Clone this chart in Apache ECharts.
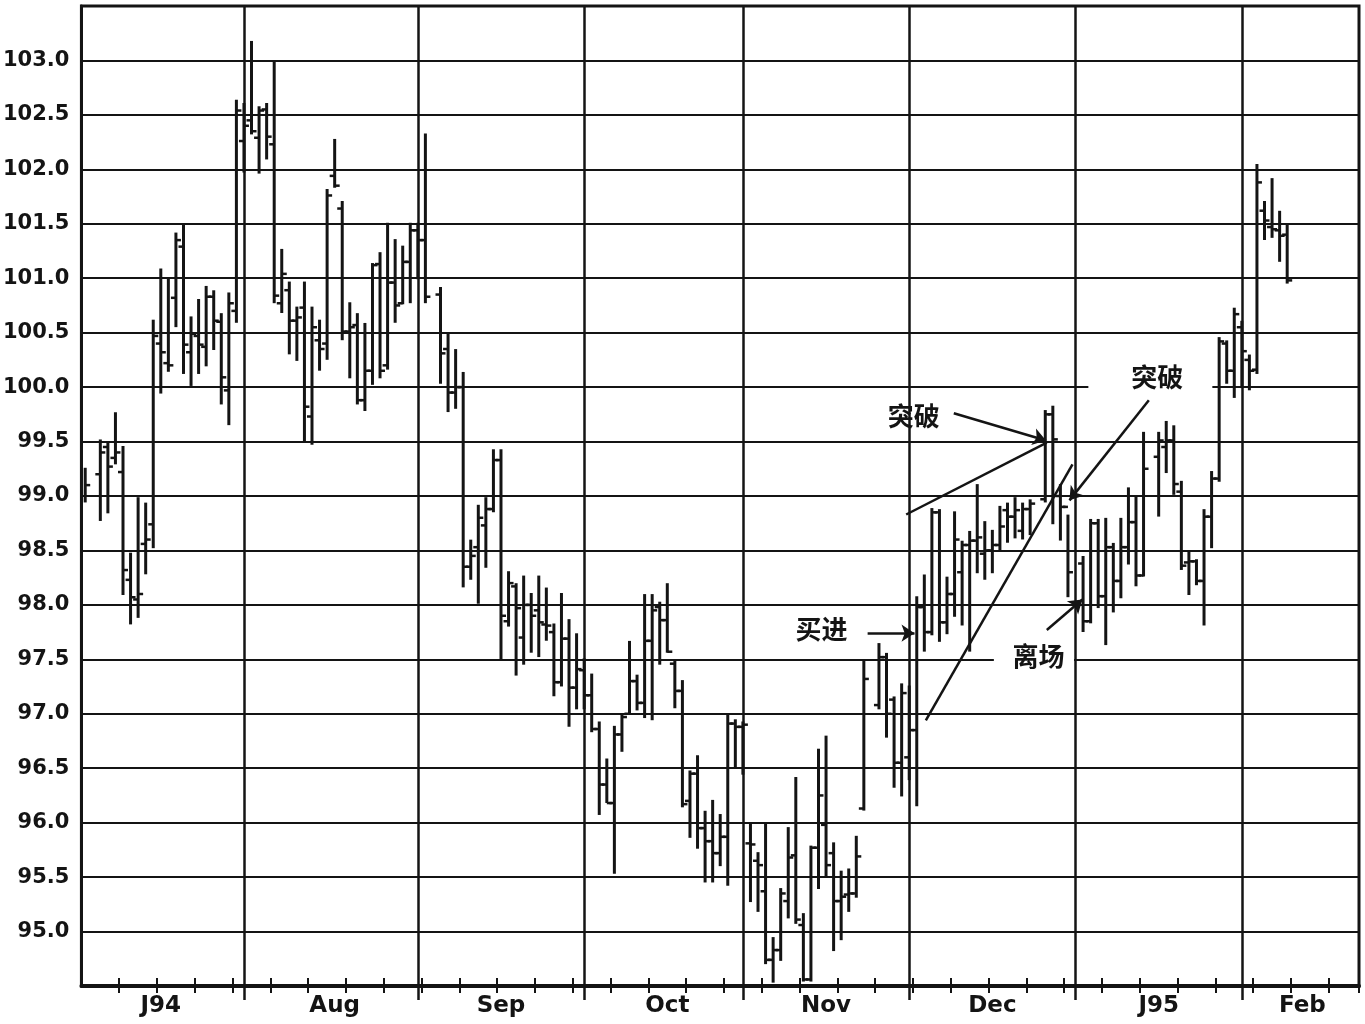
<!DOCTYPE html>
<html><head><meta charset="utf-8">
<script src="https://cdn.jsdelivr.net/npm/echarts@6/dist/echarts.min.js"></script>
<style>html,body{margin:0;padding:0;background:#fff}#c{width:1365px;height:1024px}</style>
</head><body><div id="c"></div>
<script>
// ---------------- DATA ----------------
const N_DAYS = 169; // weekday slots, July 1994 .. Feb 1995
const monthLabels = ['J94','Aug','Sep','Oct','Nov','Dec','J95','Feb'];
const monthLabelSlot = [10, 33, 55, 77, 98, 120, 142, 161];
const monthLineSlot = [21, 44, 66, 87, 109, 131, 153]; // last weekday of each month
const weekTickEvery = 5;
const yTicks = [95.0,95.5,96.0,96.5,97.0,97.5,98.0,98.5,99.0,99.5,100.0,100.5,101.0,101.5,102.0,102.5,103.0];

// bar slot (weekday index), high, low, open, close
const barSlot  = [0,2,3,4,5,6,7,8,9,10,11,12,13,14,15,16,17,18,19,20,21,22,23,24,25,26,27,28,29,30,31,32,33,34,35,36,37,38,39,40,41,42,43,44,45,47,48,49,50,51,52,53,54,55,56,57,58,59,60,61,62,63,64,65,66,67,68,69,70,71,72,73,74,75,76,77,78,79,80,81,82,83,84,85,86,87,88,89,90,91,92,93,94,95,96,97,98,99,100,101,102,103,105,106,107,108,109,110,111,112,113,114,115,116,117,118,119,120,121,122,123,124,125,127,128,129,130,132,133,134,135,136,137,138,139,140,142,143,144,145,146,147,148,149,150,151,152,153,154,155,156,157,158,159];
const barHigh  = [99.25,99.51,99.48,99.76,99.45,98.47,98.98,98.93,100.61,101.08,101.00,101.41,101.49,100.64,100.80,100.92,100.88,100.67,100.86,102.63,102.60,103.17,102.57,102.60,102.98,101.26,100.96,100.73,100.96,100.73,100.61,101.81,102.27,101.70,100.77,100.67,100.58,101.13,101.23,101.50,101.35,101.29,101.50,101.50,102.32,100.91,100.49,100.34,100.13,98.59,98.91,98.98,99.42,99.42,98.30,98.19,98.26,98.10,98.26,98.15,97.82,98.10,97.86,97.73,97.50,97.36,96.92,96.58,96.88,96.99,97.66,97.35,98.09,98.09,98.02,98.19,97.48,97.30,96.47,96.61,96.10,96.20,96.07,96.99,96.94,96.92,95.98,95.72,95.98,94.94,95.39,95.95,96.41,95.16,95.78,96.67,96.79,95.81,95.55,95.57,95.87,97.48,97.64,97.55,97.15,97.27,97.25,98.07,98.27,98.88,98.87,98.25,98.85,98.58,98.67,99.10,98.76,98.68,98.90,98.93,98.98,98.93,98.96,99.78,99.82,99.10,98.82,98.44,98.78,98.78,98.79,98.56,98.79,99.07,98.99,99.58,99.58,99.68,99.64,99.13,98.48,98.41,98.87,99.22,100.45,100.42,100.72,100.60,100.29,102.04,101.70,101.91,101.61,101.49];
const barLow   = [98.95,98.78,98.85,99.30,98.10,97.83,97.89,98.29,98.53,99.95,100.15,100.56,100.13,100.02,100.13,100.20,100.35,99.85,99.66,100.60,101.98,102.33,101.97,102.10,100.78,100.69,100.31,100.25,99.51,99.48,100.16,100.26,101.84,100.44,100.09,99.85,99.79,100.03,100.09,100.17,100.60,100.77,100.78,101.00,100.78,100.04,99.78,99.81,98.17,98.24,98.02,98.35,98.86,97.51,97.81,97.36,97.46,97.57,97.53,97.68,97.17,97.26,96.89,97.05,97.05,96.84,96.08,96.19,95.54,96.66,97.01,97.04,96.97,96.95,97.46,97.57,97.06,96.15,95.87,95.77,95.46,95.46,95.61,95.43,96.52,96.45,95.28,95.19,94.71,94.54,94.74,95.13,95.08,94.55,94.55,95.40,95.51,94.83,94.93,95.19,95.32,96.12,97.05,96.79,96.33,96.25,96.40,96.16,97.58,97.73,97.67,97.74,97.90,97.82,97.58,98.30,98.24,98.30,98.50,98.58,98.62,98.61,98.65,98.95,98.75,98.60,98.08,97.76,97.84,97.98,97.64,97.94,98.07,98.38,98.18,98.27,98.82,99.22,99.02,98.33,98.10,98.19,97.82,98.53,99.14,100.04,99.91,100.00,99.98,100.13,101.36,101.38,101.16,100.96];
const barOpen  = [null,99.20,99.45,99.35,99.22,98.23,98.05,98.56,98.74,100.40,100.22,100.82,101.29,100.32,100.47,100.37,100.83,100.60,99.97,100.70,102.26,102.45,102.29,102.55,102.23,100.77,100.89,100.61,100.73,99.73,100.43,100.40,101.94,101.64,100.51,100.57,99.88,100.15,101.13,100.20,100.96,100.77,101.15,101.44,101.35,100.85,100.35,99.95,100.00,98.35,98.53,98.73,98.88,99.33,97.85,98.17,97.70,98.00,97.95,97.82,97.75,97.29,97.69,97.24,97.40,97.17,96.86,96.35,96.18,96.81,97.00,97.30,97.10,97.67,97.98,97.86,97.46,97.21,96.20,96.45,95.95,95.83,95.72,95.87,96.91,96.88,95.81,95.65,95.37,94.74,94.83,95.28,95.70,95.06,94.56,95.77,95.98,95.72,95.28,95.34,95.35,96.13,97.08,97.52,97.13,96.55,96.60,96.85,97.98,97.75,98.85,97.84,98.10,98.30,98.55,98.59,98.47,98.50,98.55,98.87,98.81,98.68,98.88,98.97,99.75,99.00,98.90,98.38,97.85,98.75,98.08,98.53,98.22,98.53,98.76,98.27,99.36,99.45,99.51,99.04,98.39,98.40,98.22,98.81,99.16,100.40,100.15,100.55,100.25,100.16,101.62,101.47,101.44,101.40];
const barClose = [99.10,99.40,99.27,99.40,98.32,98.07,98.10,98.60,100.47,100.32,100.20,101.35,100.39,100.49,100.39,100.83,100.61,100.09,100.77,102.54,102.40,102.35,102.54,102.30,100.84,101.04,100.61,100.64,99.82,100.55,100.35,101.76,101.85,100.51,100.55,99.88,100.15,101.12,100.15,100.96,100.75,101.15,101.44,101.35,100.83,100.31,99.95,100.00,98.35,98.45,98.80,98.88,99.33,97.90,98.20,97.97,98.00,97.90,97.84,97.81,97.29,97.69,97.24,97.41,97.17,96.86,96.35,96.18,96.81,96.97,97.30,97.10,97.67,97.95,97.86,97.57,97.21,96.17,96.45,95.95,95.83,95.72,95.87,96.91,96.88,96.90,95.80,95.61,94.74,94.83,95.35,95.68,95.11,94.56,95.77,96.25,95.61,95.28,95.32,95.35,95.69,97.32,97.52,97.00,96.55,97.19,96.85,97.98,97.75,98.85,97.84,98.10,98.60,98.55,98.59,98.62,98.50,98.55,98.72,98.81,98.87,98.88,98.93,99.75,99.52,98.90,98.30,97.85,98.75,98.08,98.53,98.22,98.53,98.76,98.27,99.25,99.51,99.51,99.11,98.36,98.40,98.22,98.81,99.16,100.42,100.15,100.67,100.33,100.15,101.88,101.53,101.45,101.39,100.98];

// annotations (x in weekday-slot units, y in price)
const trendLines = [
  [[108.6, 98.83], [127.2, 99.49]],
  [[111.2, 96.94], [130.6, 99.29]]
];
const arrowLines = [
  [[114.9, 99.76], [127.1, 99.51]],
  [[140.7, 99.88], [130.2, 98.96]],
  [[103.5, 97.74], [109.7, 97.74]],
  [[127.2, 97.77], [131.9, 98.05]]
];
const noteTexts = [
  {text: '突破', x: 109.6, y: 99.73},
  {text: '突破', x: 141.8, y: 100.09},
  {text: '买进', x: 97.4,  y: 97.78},
  {text: '离场', x: 126.1, y: 97.53}
];
// white masks that interrupt grid lines behind the notes: [x0, x1, yTop, yBottom]
const noteMasks = [
  [105.3, 113.9, 99.99, 99.54],
  [132.7, 149.1, 100.24, 99.92],
  [120.2, 130.8, 97.67, 97.34]
];

// ---------------- CHART ----------------
const categories = Array.from({length: N_DAYS}, (_, i) => String(i));
const bars = barSlot.map((s, k) => [s, barHigh[k], barLow[k], barOpen[k] == null ? NaN : barOpen[k], barClose[k]]);
const INK = '#141414';
const weekFn = i => i > 0 && i % weekTickEvery === 0;
const monthFn = i => monthLineSlot.indexOf(i) >= 0;
const labelFn = i => monthLabelSlot.indexOf(i) >= 0;

const chart = echarts.init(document.getElementById('c'), null, {renderer: 'canvas'});
const option = {
  animation: false,
  backgroundColor: '#fff',
  grid: {left: 78, right: 6, top: 6, bottom: 38, show: true, borderColor: INK, borderWidth: 3, backgroundColor: 'transparent'},
  xAxis: [
    {type: 'category', data: categories, boundaryGap: true, position: 'bottom',
     axisLine: {show: true, onZero: false, lineStyle: {color: INK, width: 4}},
     axisTick: {show: true, interval: weekFn, length: 7, lineStyle: {color: INK, width: 2}},
     splitLine: {show: false},
     axisLabel: {show: true, interval: labelFn, formatter: (v, i) => monthLabels[monthLabelSlot.indexOf(Number(v))] || '',
       color: INK, fontFamily: 'DejaVu Sans', fontWeight: 'bold', fontSize: 23, margin: 9}},
    {type: 'category', data: categories, boundaryGap: true, position: 'bottom',
     axisLine: {show: false, onZero: false}, axisLabel: {show: false}, splitLine: {show: false},
     axisTick: {show: true, inside: true, interval: weekFn, length: 8, lineStyle: {color: INK, width: 2}}},
    {type: 'category', data: categories, boundaryGap: true, position: 'bottom',
     axisLine: {show: false, onZero: false}, axisLabel: {show: false}, splitLine: {show: false},
     axisTick: {show: true, alignWithLabel: true, interval: monthFn, length: 14, lineStyle: {color: INK, width: 2.5}}},
    {type: 'value', min: -0.5, max: N_DAYS - 0.5, show: false, position: 'bottom',
     axisLine: {onZero: false}, splitLine: {show: false}}
  ],
  yAxis: {type: 'value', min: 94.5, max: 103.5, interval: 0.5,
    axisLine: {show: true, onZero: false, lineStyle: {color: INK, width: 3}},
    axisTick: {show: false},
    splitLine: {show: true, lineStyle: {color: INK, width: 2}},
    axisLabel: {formatter: v => yTicks.some(t => Math.abs(t - v) < 1e-6) ? v.toFixed(1) : '',
      color: INK, fontFamily: 'DejaVu Sans', fontWeight: 'bold', fontSize: 21, margin: 12}},
  series: [
    {type: 'line', xAxisIndex: 3, yAxisIndex: 0, data: [], z: 0.5, silent: true, symbol: 'none',
     markLine: {silent: true, animation: false, symbol: ['none', 'none'], label: {show: false},
       lineStyle: {type: 'solid', color: INK, width: 2.5},
       data: monthLineSlot.map(s => ({xAxis: s}))}},
    {type: 'custom', xAxisIndex: 0, yAxisIndex: 0, data: bars, z: 5,
     encode: {x: 0, y: [1, 2]},
     renderItem: function (params, api) {
       const x = api.value(0), h = api.value(1), l = api.value(2), o = api.value(3), c = api.value(4);
       const pH = api.coord([x, h]), pL = api.coord([x, l]);
       const ch = [{type: 'line', shape: {x1: pH[0], y1: pH[1] - 1, x2: pL[0], y2: pL[1] + 1}, style: {stroke: INK, lineWidth: 3}}];
       if (o != null && !isNaN(o)) {
         const p = api.coord([x, o]);
         ch.push({type: 'line', shape: {x1: p[0] - 5, y1: p[1], x2: p[0], y2: p[1]}, style: {stroke: INK, lineWidth: 2.5}});
       }
       if (c != null && !isNaN(c)) {
         const p = api.coord([x, c]);
         ch.push({type: 'line', shape: {x1: p[0], y1: p[1], x2: p[0] + 5, y2: p[1]}, style: {stroke: INK, lineWidth: 2.5}});
       }
       return {type: 'group', children: ch};
     }},
    {type: 'line', xAxisIndex: 3, yAxisIndex: 0, data: [], z: 6, silent: true, symbol: 'none',
     markLine: {silent: true, animation: false, symbol: ['none', 'none'], label: {show: false},
       lineStyle: {type: 'solid', color: INK, width: 2.5},
       data: trendLines.map(seg => [{coord: seg[0]}, {coord: seg[1]}])}},
    {type: 'line', xAxisIndex: 3, yAxisIndex: 0, data: [], z: 6, silent: true, symbol: 'none',
     markLine: {silent: true, animation: false, symbol: ['none', 'arrow'], symbolSize: 13, label: {show: false},
       lineStyle: {type: 'solid', color: INK, width: 2.5},
       data: arrowLines.map(seg => [{coord: seg[0]}, {coord: seg[1]}])}}
  ]
};
chart.setOption(option);

const toPx = (x, y) => chart.convertToPixel({xAxisIndex: 3, yAxisIndex: 0}, [x, y]);
const graphics = [];
noteMasks.forEach(m => {
  const a = toPx(m[0], m[2]), b = toPx(m[1], m[3]);
  graphics.push({type: 'rect', z: 1, silent: true,
    shape: {x: a[0], y: a[1], width: b[0] - a[0], height: b[1] - a[1]}, style: {fill: '#fff'}});
});
noteTexts.forEach(t => {
  const p = toPx(t.x, t.y);
  graphics.push({type: 'text', z: 100, silent: true, x: p[0], y: p[1],
    style: {text: t.text, fill: INK, font: 'bold 26px "Noto Sans CJK SC"', align: 'center', verticalAlign: 'middle'}});
});
chart.setOption({graphic: graphics});
</script>
</body></html>
